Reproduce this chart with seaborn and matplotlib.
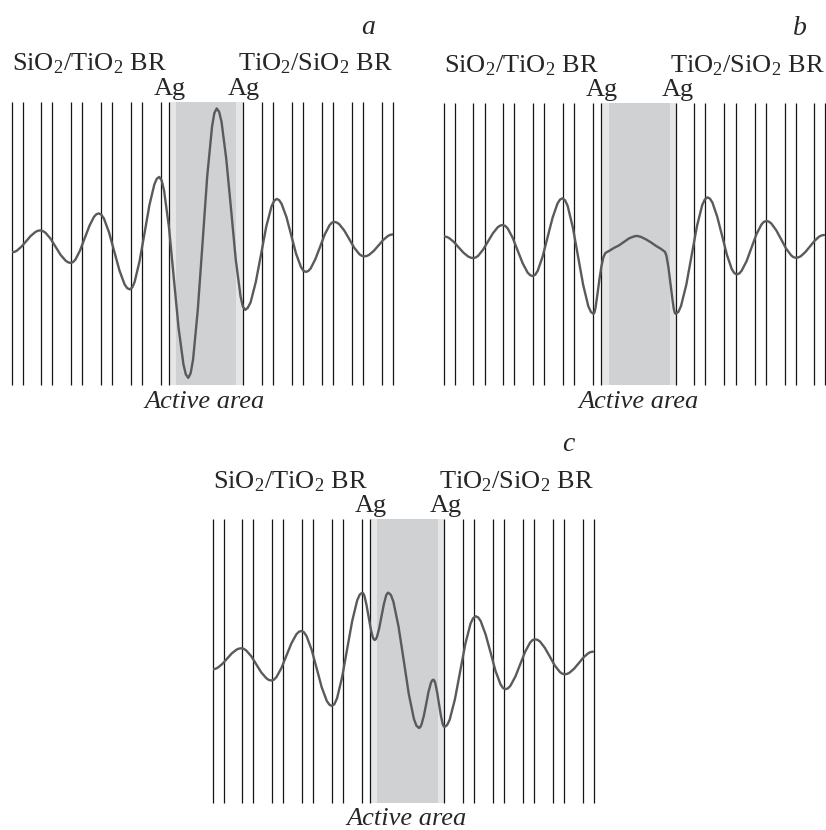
import numpy as np
import pandas as pd
import seaborn as sns
import matplotlib.pyplot as plt

# Fronteiras das camadas do refletor de Bragg (posição relativa, u.a.)
br_esq = [0, 11, 29.5, 40.7, 59.4, 70.5, 89, 100.5, 119, 130.5, 149]
br_dir = [250.5, 261.5, 280.5, 291.5, 310.5, 321.5, 340.5, 351.5, 370, 381]

# Camadas de Ag: [início Ag esq, fim Ag esq, início Ag dir, fim Ag dir]
ag_a = [157.3, 163.8, 224.3, 230.8]
ag_b = [157, 165, 226, 232.5]
ag_c = [157.3, 164, 225.6, 231.6]

# Perfil do campo - painel a
x_a = [0, 2.4, 4.8, 9.5, 14.3, 19, 23.8, 26.1, 28.5,
       31, 33.6, 38.7, 43.8, 48.8, 53.9, 56.5, 59,
       61.3, 63.7, 68.3, 73, 77.7, 82.3, 84.7, 87,
       89.6, 92.2, 97.3, 102.5, 107.7, 112.8, 115.4, 118,
       120.5, 122.9, 127.8, 132.8, 137.7, 142.6, 145.0, 147.5,
       149.9, 152.3, 157.2, 162, 166.8, 171.7, 174.1, 176.5,
       178.9, 181.3, 186, 190.8, 195.5, 200.3, 202.6, 205,
       207.4, 209.8, 214.5, 219.3, 224, 228.8, 231.1, 233.5,
       235.9, 238.8, 244, 249.3, 254.5, 259.8, 262.4, 265,
       267.4, 269.8, 274.7, 279.5, 284.3, 289.2, 291.6, 294,
       296.4, 298.8, 303.5, 308.3, 313, 317.8, 320.1, 322.5,
       325, 327.5, 332.5, 337.5, 342.5, 347.5, 350, 352.5,
       354.9, 357.3, 362, 366.8, 371.5, 376.3, 378.6, 381]
y_a = [-9, -8.6, -7.5, -3.5, 2, 7.5, 11.5, 12.6, 13,
       12.4, 10.8, 4.9, -3.3, -11.4, -17.3, -19, -19.5,
       -18.7, -16.2, -7.1, 5.3, 17.6, 26.7, 29.2, 30,
       28.7, 24.9, 11, -8, -27, -40.9, -44.7, -46,
       -44.1, -38.5, -17.9, 10.3, 38.4, 59, 64.6, 66.5,
       63.1, 53, 16.3, -34, -84.3, -121, -131.1, -134.5,
       -129.9, -116.4, -67.1, 0.3, 67.6, 116.9, 130.4, 135,
       131.6, 121.5, 84.6, 34.3, -16.1, -53, -63.1, -66.5,
       -64.6, -59.1, -38.8, -11, 16.8, 37.1, 42.6, 44.5,
       43.3, 39.6, 26.3, 8, -10.3, -23.6, -27.3, -28.5,
       -27.7, -25.2, -16, -3.5, 9, 18.2, 20.7, 21.5,
       20.9, 19.2, 12.9, 4.3, -4.4, -10.7, -12.4, -13,
       -12.6, -11.5, -7.5, -2, 3.5, 7.5, 8.6, 9]

# Perfil do campo - painel b
x_b = [0, 2.4, 4.9, 9.7, 14.6, 19.5, 24.3, 26.8, 29.2,
       31.7, 34.1, 39, 44, 48.9, 53.8, 56.2, 58.7,
       61.2, 63.7, 68.7, 73.7, 78.7, 83.7, 86.2, 88.7,
       91.2, 93.7, 98.6, 103.6, 108.6, 113.5, 116, 118.5,
       121.1, 123.7, 128.8, 134, 139.2, 144.3, 146.9, 149.5,
       150.5, 151.5, 153.5, 155.5, 157.5, 159.5, 161.5,
       166, 170, 175, 180, 185, 190, 193, 197, 202, 207, 212, 217, 221,
       222.5, 224.5, 226.5, 228.5, 229.7, 230.7, 231.7,
       234.4, 237, 242.3, 247.6, 252.9, 258.2, 260.9, 263.5,
       265.9, 268.4, 273.2, 278.1, 283, 287.8, 290.3, 292.7,
       295.2, 297.6, 302.6, 307.5, 312.4, 317.4, 319.8, 322.3,
       324.8, 327.3, 332.2, 337.2, 342.1, 347.1, 349.5, 352,
       354.3, 356.7, 361.3, 366, 370.7, 375.3, 377.7, 380]
y_b = [7.5, 7.1, 6, 2.1, -3.4, -8.8, -12.7, -13.8, -14.2,
       -13.6, -12, -5.9, 2.4, 10.6, 16.7, 18.3, 18.9,
       18, 15.5, 6.1, -6.7, -19.4, -28.8, -31.3, -32.2,
       -30.9, -27, -12.8, 6.7, 26.2, 40.4, 44.3, 45.6,
       43.6, 37.9, 16.7, -12.2, -41.1, -62.3, -68, -70,
       -68.5, -64, -50, -35, -22, -13, -9,
       -6.5, -4, -1.5, 2, 5.5, 7.5, 8, 7, 4.5, 1.5, -2, -5, -8,
       -12, -24, -40, -56, -64.5, -68.8, -70,
       -68, -62.2, -40.9, -11.7, 17.5, 38.8, 44.6, 46.6,
       45.3, 41.4, 27.3, 8.1, -11.2, -25.3, -29.2, -30.5,
       -29.6, -26.9, -17.2, -3.8, 9.6, 19.3, 22, 22.9,
       22.3, 20.4, 13.7, 4.5, -4.7, -11.4, -13.3, -13.9,
       -13.5, -12.4, -8.2, -2.5, 3.2, 7.4, 8.5, 8.9]

# Perfil do campo - painel c
x_c = [0, 2.4, 4.8, 9.5, 14.3, 19, 23.8, 26.1, 28.5,
       31, 33.5, 38.6, 43.6, 48.6, 53.7, 56.2, 58.7,
       61.2, 63.7, 68.7, 73.7, 78.7, 83.7, 86.2, 88.7,
       91.2, 93.8, 98.9, 104, 109, 114.1, 116.7, 119.2,
       121.7, 124.3, 129.3, 134.4, 139.5, 144.5, 147.1, 149.6,
       150.6, 151.7, 153.7, 155.8, 157.9, 159.9, 161, 162,
       163.1, 164.3, 166.5, 168.8, 171.1, 173.3, 174.5, 175.6,
       178.2, 180.7, 185.8, 191, 196.1, 201.2, 203.7, 206.3,
       207.5, 208.7, 211.1, 213.5, 215.8, 218.2, 219.4, 220.6,
       221.5, 222.5, 224.3, 226.2, 228.1, 229.9, 230.9, 231.8,
       234.4, 237, 242.2, 247.4, 252.6, 257.8, 260.4, 263,
       265.5, 268, 272.9, 277.9, 282.8, 287.8, 290.2, 292.7,
       295.2, 297.6, 302.6, 307.5, 312.4, 317.4, 319.8, 322.3,
       324.8, 327.3, 332.2, 337.2, 342.1, 347.1, 349.5, 352,
       354.4, 356.7, 361.4, 366.2, 370.9, 375.6, 377.9, 380.3]
y_c = [-8.3, -7.9, -6.9, -3.1, 2.2, 7.5, 11.3, 12.3, 12.7,
       12.2, 10.5, 4.7, -3.4, -11.5, -17.3, -19, -19.5,
       -18.7, -16.2, -7.1, 5.3, 17.6, 26.7, 29.2, 30,
       28.7, 25, 11.3, -7.5, -26.3, -40, -43.7, -45,
       -43.1, -37.4, -16.7, 11.7, 40, 60.7, 66.4, 68.3,
       67.5, 65.1, 56.5, 44.7, 32.8, 24.2, 21.8, 21,
       21.8, 24.2, 32.8, 44.7, 56.5, 65.1, 67.5, 68.3,
       66, 59.2, 34.5, 0.7, -33.2, -57.9, -64.7, -67,
       -66.2, -63.8, -54.9, -42.9, -30.8, -21.9, -19.5, -18.7,
       -19.5, -21.9, -30.5, -42.4, -54.2, -62.8, -65.2, -66,
       -64.1, -58.6, -38.3, -10.7, 17, 37.3, 42.8, 44.7,
       43.5, 39.8, 26.5, 8.3, -10, -23.3, -27, -28.2,
       -27.4, -24.9, -15.7, -3.3, 9.2, 18.4, 20.9, 21.7,
       21.1, 19.4, 13, 4.2, -4.6, -11, -12.7, -13.3,
       -12.9, -11.8, -7.7, -2, 3.7, 7.8, 8.9, 9.3]

rotulos = ["a", "b", "c"]
txt_esq = "SiO$_2$/TiO$_2$ BR"
txt_dir = "TiO$_2$/SiO$_2$ BR"
txt_ag = "Ag"
txt_ativa = "Active area"

sns.set_theme(style="white")
plt.rcParams['font.family'] = ['Liberation Serif', 'DejaVu Serif']
plt.rcParams['mathtext.fontset'] = 'custom'
plt.rcParams['mathtext.rm'] = 'Liberation Serif'
plt.rcParams['mathtext.it'] = 'Liberation Serif:italic'
plt.rcParams['mathtext.default'] = 'regular'

fs = 19
cor_ativa = '#d0d1d3'
cor_ag = '#e5e6e8'
cor_curva = '#5a5a5a'

fig = plt.figure(figsize=(8.26, 8.30), dpi=100)

#posições dos paineis na figura [esq, baixo, largura, altura] e limite vertical
paineis = [
    ([0.0142, 0.5361, 0.4613, 0.3413], ag_a, x_a, y_a, 141.7),
    ([0.5375, 0.5361, 0.4613, 0.3401], ag_b, x_b, y_b, 141.2),
    ([0.2575, 0.0329, 0.4613, 0.3415], ag_c, x_c, y_c, 141.7),
]

for (pos, ag, xs, ys, lim), rot in zip(paineis, rotulos):
    ax = fig.add_axes(pos)
    ax.set_xlim(0, 381)
    ax.set_ylim(-lim, lim)

    #camadas de Ag e região ativa
    ax.axvspan(ag[0], ag[1], color=cor_ag, lw=0, zorder=1)
    ax.axvspan(ag[1], ag[2], color=cor_ativa, lw=0, zorder=1)
    ax.axvspan(ag[2], ag[3], color=cor_ag, lw=0, zorder=1)

    #fronteiras das camadas
    linhas = br_esq + [ag[0], ag[3]] + br_dir
    ax.vlines(linhas, -lim, lim, colors='#151515', lw=0.9, clip_on=False, zorder=2)

    df = pd.DataFrame({"pos": xs, "campo": ys})
    sns.lineplot(data=df, x="pos", y="campo", ax=ax, sort=False, estimator=None,
                 color=cor_curva, lw=1.7, zorder=3)
    ax.set_axis_off()

    tr = ax.get_xaxis_transform()
    ax.text(0, 1.109, txt_esq, transform=ax.transAxes, ha='left', va='baseline', fontsize=fs)
    ax.text(1, 1.109, txt_dir, transform=ax.transAxes, ha='right', va='baseline', fontsize=fs)
    ax.text(ag[0] + 1, 1.025, txt_ag, transform=tr, ha='center', va='baseline', fontsize=fs)
    ax.text(ag[3] + 1, 1.025, txt_ag, transform=tr, ha='center', va='baseline', fontsize=fs)
    ax.text((ag[1] + ag[2]) / 2 - 1, -0.08, txt_ativa, transform=tr, ha='center',
            va='baseline', fontsize=fs, style='italic')
    ax.text(356, 1.24, rot, transform=tr, ha='center', va='baseline', fontsize=fs + 1,
            style='italic')

fig.savefig('out.png', dpi=100)
